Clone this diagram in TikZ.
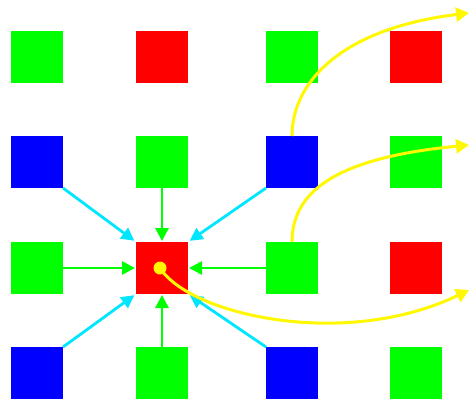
\documentclass[tikz,border=0pt]{standalone}
\usetikzlibrary{arrows.meta}
\definecolor{pg}{RGB}{0,255,0}
\definecolor{pr}{RGB}{255,0,0}
\definecolor{pb}{RGB}{0,0,255}
\definecolor{pc}{RGB}{0,230,255}
\definecolor{py}{RGB}{255,248,0}
\begin{document}
\begin{tikzpicture}[x=1pt,y=-1pt,
  sq/.style={minimum size=52pt,inner sep=0pt,outer sep=0pt,fill=#1},
  garrow/.style={draw=pg,line width=2.8pt,-{Triangle[length=13pt,width=13pt]},shorten >=1pt},
  carrow/.style={draw=pc,line width=2.8pt,-{Triangle[length=13pt,width=13pt]},shorten >=2pt},
  yarrow/.style={draw=py,line width=3pt,-{Triangle[length=13pt,width=14pt]}}]
\useasboundingbox (0,0) rectangle (470,405);
% row 1
\node[sq=pg] (s11) at (37,57) {};
\node[sq=pr] (s12) at (162,57) {};
\node[sq=pg] (s13) at (292,57) {};
\node[sq=pr] (s14) at (416,57) {};
% row 2
\node[sq=pb] (s21) at (37,162) {};
\node[sq=pg] (s22) at (162,162) {};
\node[sq=pb] (s23) at (292,162) {};
\node[sq=pg] (s24) at (416,162) {};
% row 3
\node[sq=pg] (s31) at (37,268) {};
\node[sq=pr] (s32) at (162,268) {};
\node[sq=pg] (s33) at (292,268) {};
\node[sq=pr] (s34) at (416,268) {};
% row 4
\node[sq=pb] (s41) at (37,373) {};
\node[sq=pg] (s42) at (162,373) {};
\node[sq=pb] (s43) at (292,373) {};
\node[sq=pg] (s44) at (416,373) {};
% green arrows
\draw[garrow] (s22.south) -- (s32.north);
\draw[garrow] (s31.east) -- (s32.west);
\draw[garrow] (s33.west) -- (s32.east);
\draw[garrow] (s42.north) -- (s32.south);
% cyan arrows
\draw[carrow] (s21.south east) -- (s32.north west);
\draw[carrow] (s23.south west) -- (s32.north east);
\draw[carrow] (s41.north east) -- (s32.south west);
\draw[carrow] (s43.north west) -- (s32.south east);
% yellow
\node[circle,fill=py,minimum size=13pt,inner sep=0pt] (dot) at (160,268) {};
\coordinate (e1) at (469,13);
\coordinate (e2) at (469,145);
\coordinate (e3) at (469,290);
\draw[yarrow] (s23.north) .. controls (292,80) and (345,28) .. (e1);
\draw[yarrow] (s33.north) .. controls (292,187) and (345,157) .. (e2);
\draw[yarrow] (dot.center) .. controls (190,315) and (345,350) .. (e3);
\end{tikzpicture}
\end{document}
